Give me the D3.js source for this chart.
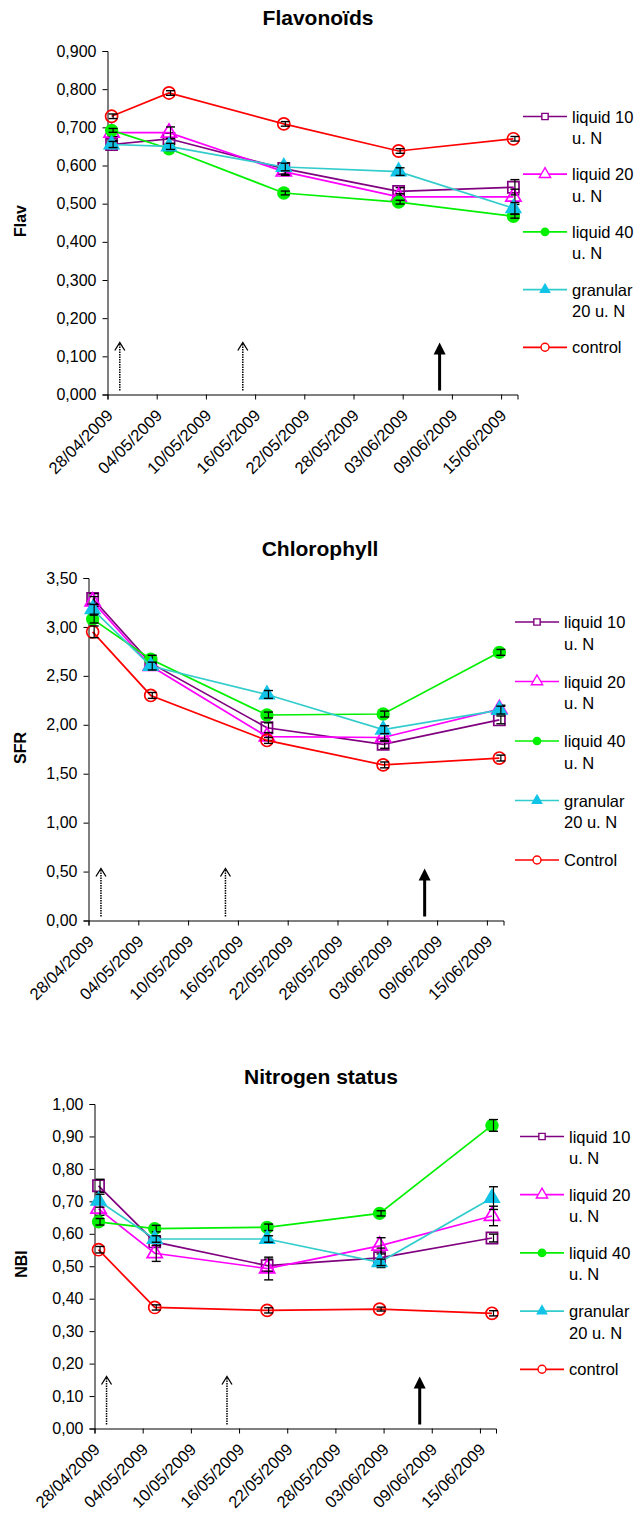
<!DOCTYPE html>
<html>
<head>
<meta charset="utf-8">
<script src="https://cdn.jsdelivr.net/npm/d3@7"></script>
<style>
    body { margin: 0; background: #ffffff; }
    svg text { font-family: "Liberation Sans", Arial, sans-serif; fill: #000000; }
</style>
</head>
<body>
<div id="charts"></div>
<script>
// Sampling dates and the date axis tick labels
const sampleDates = ['28/04/2009', '05/05/2009', '19/05/2009', '02/06/2009', '16/06/2009'];
const tickLabels = ['28/04/2009', '04/05/2009', '10/05/2009', '16/05/2009', '22/05/2009',
    '28/05/2009', '03/06/2009', '09/06/2009', '15/06/2009'];
const axisEnd = '17/06/2009';

// Nitrogen applications (arrows): the last one is drawn solid
const applicationDates = ['29/04/2009', '14/05/2009', '07/06/2009'];
const applicationSolid = [false, false, true];

const legendLabels = [['liquid 10', 'u. N'], ['liquid 20', 'u. N'], ['liquid 40', 'u. N'],
    ['granular', '20 u. N'], ['control']];
const legendLabelsChl = [['liquid 10', 'u. N'], ['liquid 20', 'u. N'], ['liquid 40', 'u. N'],
    ['granular', '20 u. N'], ['Control']];

// Flavonoids (Flav)
const flavLiquid10 = [0.655, 0.670, 0.592, 0.532, 0.543];
const flavLiquid20 = [0.686, 0.686, 0.584, 0.518, 0.518];
const flavLiquid40 = [0.692, 0.644, 0.528, 0.504, 0.467];
const flavGranular = [0.655, 0.650, 0.596, 0.584, 0.488];
const flavControl = [0.729, 0.790, 0.709, 0.638, 0.670];
const flavLiquid10Err = [0.010, 0.015, 0.015, 0.010, 0.020];
const flavLiquid20Err = [0.010, 0.015, 0.010, 0.008, 0.020];
const flavLiquid40Err = [0.005, 0.005, 0.005, 0.005, 0.005];
const flavGranularErr = [0.008, 0.008, 0.010, 0.010, 0.015];
const flavControlErr = [0.006, 0.006, 0.006, 0.006, 0.006];

// Chlorophyll (SFR)
const chlLiquid10 = [3.29, 2.63, 1.97, 1.80, 2.05];
const chlLiquid20 = [3.26, 2.60, 1.88, 1.87, 2.16];
const chlLiquid40 = [3.08, 2.67, 2.10, 2.11, 2.74];
const chlGranular = [3.18, 2.60, 2.31, 1.95, 2.15];
const chlControl = [2.95, 2.30, 1.84, 1.59, 1.66];
const chlLiquid10Err = [0.05, 0.04, 0.05, 0.04, 0.04];
const chlLiquid20Err = [0.05, 0.04, 0.04, 0.04, 0.04];
const chlLiquid40Err = [0.04, 0.04, 0.03, 0.03, 0.03];
const chlGranularErr = [0.05, 0.04, 0.04, 0.04, 0.04];
const chlControlErr = [0.06, 0.03, 0.03, 0.03, 0.03];

// Nitrogen status (NBI)
const nbiLiquid10 = [0.748, 0.575, 0.502, 0.526, 0.587];
const nbiLiquid20 = [0.677, 0.540, 0.493, 0.563, 0.655];
const nbiLiquid40 = [0.637, 0.616, 0.620, 0.663, 0.934];
const nbiGranular = [0.702, 0.584, 0.584, 0.512, 0.710];
const nbiControl = [0.551, 0.373, 0.364, 0.368, 0.355];
const nbiLiquid10Err = [0.020, 0.012, 0.020, 0.030, 0.012];
const nbiLiquid20Err = [0.020, 0.025, 0.035, 0.025, 0.030];
const nbiLiquid40Err = [0.010, 0.010, 0.010, 0.008, 0.018];
const nbiGranularErr = [0.020, 0.010, 0.010, 0.010, 0.035];
const nbiControlErr = [0.010, 0.008, 0.008, 0.006, 0.008];

function multiSeriesChart() {
    let canvas;

    let frame = {left: 100, right: 500, top: 50, bottom: 400},
        legend = {x: 520, y: 116, step: 58},
        titleY = 25,
        titleX = 318,
        yLabelPos = {x: 26, y: 220};

    let title = '',
        yLabel = '',
        yMax = 1,
        yStep = 0.1,
        decimals = 2,
        labels = legendLabels,
        series = [];

    let x, y;

    const styles = [
        {color: '#800080', symbol: d3.symbolSquare, size: 125, legendSize: 40, fill: 'none'},
        {color: '#ff00ff', symbol: d3.symbolTriangle, size: 100, legendSize: 55, fill: 'none'},
        {color: '#00f000', symbol: d3.symbolCircle, size: 140, legendSize: 60, fill: '#00f000'},
        {color: '#33cccc', symbol: d3.symbolTriangle, size: 130, legendSize: 60, fill: '#11c3e6'},
        {color: '#ff0000', symbol: d3.symbolCircle, size: 115, legendSize: 50, fill: 'none'}
    ];

    const parseDate = d3.utcParse('%d/%m/%Y');

    function chart(selection) {
        selection.each(function() {
            canvas = d3.select(this);

            x = d3.scaleUtc()
                .domain([parseDate(tickLabels[0]), parseDate(axisEnd)])
                .range([frame.left, frame.right]);
            y = d3.scaleLinear()
                .domain([0, yMax])
                .range([frame.bottom, frame.top]);

            drawTitle();
            drawAxes();
            drawArrows();
            drawSeries();
            drawLegend();
        });
    }

    // #region Chart drawing

    function drawTitle() {
        canvas.append('text')
            .attr('x', titleX)
            .attr('y', titleY)
            .attr('text-anchor', 'middle')
            .style('font-size', '21px')
            .style('font-weight', 'bold')
            .text(title);

        canvas.append('text')
            .attr('transform', 'translate(' + yLabelPos.x + ',' + yLabelPos.y + ') rotate(-90)')
            .attr('text-anchor', 'middle')
            .style('font-size', '16px')
            .style('font-weight', 'bold')
            .text(yLabel);
    }

    function drawAxes() {
        let fmt = d3.format('.' + decimals + 'f');
        let yTicks = d3.range(0, yMax + yStep / 2, yStep);

        let yAxis = d3.axisLeft(y)
            .tickValues(yTicks)
            .tickSizeOuter(0)
            .tickSize(5)
            .tickPadding(6)
            .tickFormat(function(d) {
                return fmt(d).replace('.', ',');
            });

        let gy = canvas.append('g')
            .attr('transform', 'translate(' + frame.left + ',0)')
            .call(yAxis);
        gy.selectAll('text').style('font-size', '16px');

        let xAxis = d3.axisBottom(x)
            .tickValues(tickLabels.map(parseDate))
            .tickSizeOuter(0)
            .tickSize(5)
            .tickFormat(d3.utcFormat('%d/%m/%Y'));

        let gx = canvas.append('g')
            .attr('transform', 'translate(0,' + frame.bottom + ')')
            .call(xAxis);
        gx.selectAll('text')
            .style('font-size', '16.5px')
            .attr('text-anchor', 'end')
            .attr('x', 0)
            .attr('y', 0)
            .attr('dy', 0)
            .attr('transform', 'translate(6,22) rotate(-45)');

        canvas.selectAll('.domain, .tick line').attr('stroke', '#000000');
    }

    function drawArrows() {
        applicationDates.forEach(function(d, i) {
            let ax = x(d3.utcHour.offset(parseDate(d), 12));
            let base = frame.bottom - 4,
                top = frame.bottom - 52;

            if (applicationSolid[i]) {
                canvas.append('line')
                    .attr('x1', ax).attr('x2', ax)
                    .attr('y1', base).attr('y2', top + 10)
                    .attr('stroke', '#000000')
                    .attr('stroke-width', 3);
                canvas.append('path')
                    .attr('d', 'M' + (ax - 6) + ',' + (top + 12) + 'L' + ax + ',' + top + 'L' + (ax + 6) + ',' + (top + 12) + 'Z')
                    .attr('fill', '#000000');
            } else {
                canvas.append('line')
                    .attr('x1', ax).attr('x2', ax)
                    .attr('y1', base).attr('y2', top + 1)
                    .attr('stroke', '#000000')
                    .attr('stroke-width', 1.5)
                    .attr('stroke-dasharray', '1.5,1');
                canvas.append('path')
                    .attr('d', 'M' + (ax - 5) + ',' + (top + 8) + 'L' + ax + ',' + top + 'L' + (ax + 5) + ',' + (top + 8))
                    .attr('fill', 'none')
                    .attr('stroke', '#000000')
                    .attr('stroke-width', 1.3);
            }
        });
    }

    function drawSeries() {
        let dates = sampleDates.map(function(d) {
            return d3.utcHour.offset(parseDate(d), 12);
        });

        series.forEach(function(s, k) {
            let style = styles[k];
            let points = s.values.map(function(v, i) {
                return {x: dates[i], value: v, err: s.errors[i]};
            });

            let line = d3.line()
                .x(function(d) { return x(d.x); })
                .y(function(d) { return y(d.value); });

            canvas.append('path')
                .datum(points)
                .attr('d', line)
                .attr('fill', 'none')
                .attr('stroke', style.color)
                .attr('stroke-width', 1.7);

            canvas.selectAll('.marker' + k)
                .data(points)
                .enter()
                .append('path')
                .attr('class', 'marker' + k)
                .attr('transform', function(d) {
                    return 'translate(' + x(d.x) + ',' + y(d.value) + ')';
                })
                .attr('d', d3.symbol().type(style.symbol).size(style.size))
                .attr('fill', style.fill)
                .attr('stroke', style.fill === 'none' ? style.color : 'none')
                .attr('stroke-width', 1.7);

            // Error bars on top of the markers
            let bars = canvas.selectAll('.err' + k)
                .data(points)
                .enter()
                .append('g')
                .attr('class', 'err' + k)
                .attr('transform', function(d) {
                    return 'translate(' + (x(d.x) + 1.5) + ',0)';
                });

            bars.append('line')
                .attr('y1', function(d) { return y(d.value - d.err); })
                .attr('y2', function(d) { return y(d.value + d.err); })
                .attr('stroke', '#000000')
                .attr('stroke-width', 1.2);
            bars.append('line')
                .attr('x1', -4.5).attr('x2', 4.5)
                .attr('y1', function(d) { return y(d.value - d.err); })
                .attr('y2', function(d) { return y(d.value - d.err); })
                .attr('stroke', '#000000')
                .attr('stroke-width', 1.4);
            bars.append('line')
                .attr('x1', -4.5).attr('x2', 4.5)
                .attr('y1', function(d) { return y(d.value + d.err); })
                .attr('y2', function(d) { return y(d.value + d.err); })
                .attr('stroke', '#000000')
                .attr('stroke-width', 1.4);
        });
    }

    function drawLegend() {
        labels.forEach(function(lines, k) {
            let style = styles[k];
            let ly = legend.y + k * legend.step;

            canvas.append('line')
                .attr('x1', legend.x).attr('x2', legend.x + 44)
                .attr('y1', ly).attr('y2', ly)
                .attr('stroke', style.color)
                .attr('stroke-width', 1.7);

            canvas.append('path')
                .attr('transform', 'translate(' + (legend.x + 22) + ',' + ly + ')')
                .attr('d', d3.symbol().type(style.symbol).size(style.legendSize))
                .attr('fill', style.fill === 'none' ? '#ffffff' : style.fill)
                .attr('stroke', style.fill === 'none' ? style.color : 'none')
                .attr('stroke-width', 1.4);

            let text = canvas.append('text')
                .attr('x', legend.x + 49)
                .attr('y', ly + 6)
                .style('font-size', '16.5px');
            lines.forEach(function(t, j) {
                text.append('tspan')
                    .attr('x', legend.x + 49)
                    .attr('dy', j === 0 ? 0 : 21.5)
                    .text(t);
            });
        });
    }

    // #endregion

    // #region Getters and Setters

    chart.frame = function(value) { frame = value; return chart; };
    chart.legend = function(value) { legend = value; return chart; };
    chart.titleY = function(value) { titleY = value; return chart; };
    chart.titleX = function(value) { titleX = value; return chart; };
    chart.yLabelPos = function(value) { yLabelPos = value; return chart; };
    chart.title = function(value) { title = value; return chart; };
    chart.yLabel = function(value) { yLabel = value; return chart; };
    chart.yMax = function(value) { yMax = value; return chart; };
    chart.yStep = function(value) { yStep = value; return chart; };
    chart.decimals = function(value) { decimals = value; return chart; };
    chart.labels = function(value) { labels = value; return chart; };
    chart.series = function(value) { series = value; return chart; };

    // #endregion

    return chart;
}

let svg = d3.select('#charts')
    .append('svg')
    .attr('width', 635)
    .attr('height', 1517);

let flavChart = multiSeriesChart()
    .title('Flavonoïds')
    .yLabel('Flav')
    .yMax(0.9).yStep(0.1).decimals(3)
    .frame({left: 107.5, right: 517.5, top: 51, bottom: 394.5})
    .titleX(318).titleY(25)
    .yLabelPos({x: 26, y: 221})
    .legend({x: 523, y: 116.5, step: 57.7})
    .labels(legendLabels)
    .series([
        {values: flavLiquid10, errors: flavLiquid10Err},
        {values: flavLiquid20, errors: flavLiquid20Err},
        {values: flavLiquid40, errors: flavLiquid40Err},
        {values: flavGranular, errors: flavGranularErr},
        {values: flavControl, errors: flavControlErr}
    ]);

let chlChart = multiSeriesChart()
    .title('Chlorophyll')
    .yLabel('SFR')
    .yMax(3.5).yStep(0.5).decimals(2)
    .frame({left: 88.5, right: 503.5, top: 578, bottom: 920.5})
    .titleX(320).titleY(556)
    .yLabelPos({x: 26, y: 748})
    .legend({x: 515, y: 622, step: 59.5})
    .labels(legendLabelsChl)
    .series([
        {values: chlLiquid10, errors: chlLiquid10Err},
        {values: chlLiquid20, errors: chlLiquid20Err},
        {values: chlLiquid40, errors: chlLiquid40Err},
        {values: chlGranular, errors: chlGranularErr},
        {values: chlControl, errors: chlControlErr}
    ]);

let nbiChart = multiSeriesChart()
    .title('Nitrogen status')
    .yLabel('NBI')
    .yMax(1.0).yStep(0.1).decimals(2)
    .frame({left: 94.5, right: 496, top: 1104, bottom: 1428.5})
    .titleX(321).titleY(1084)
    .yLabelPos({x: 27, y: 1264})
    .legend({x: 520, y: 1136.5, step: 58.2})
    .labels(legendLabels)
    .series([
        {values: nbiLiquid10, errors: nbiLiquid10Err},
        {values: nbiLiquid20, errors: nbiLiquid20Err},
        {values: nbiLiquid40, errors: nbiLiquid40Err},
        {values: nbiGranular, errors: nbiGranularErr},
        {values: nbiControl, errors: nbiControlErr}
    ]);

svg.append('g').call(flavChart);
svg.append('g').call(chlChart);
svg.append('g').call(nbiChart);
</script>
</body>
</html>
